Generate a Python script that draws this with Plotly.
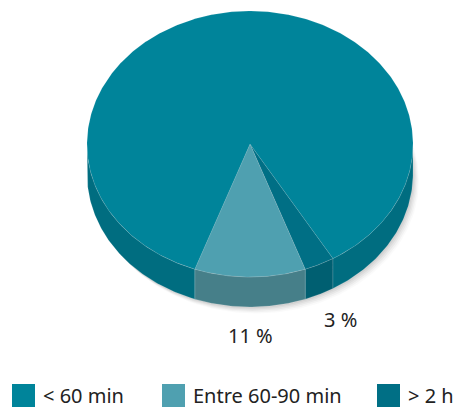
import numpy as np
import plotly.graph_objects as go

# Travel time shares (percent)
categories = ["< 60 min", "Entre 60-90 min", "> 2 h"]
shares = [86, 11, 3]
labels_shown = [False, True, True]

top_colors = ["#00849a", "#4fa0b0", "#006f85"]
side_colors = ["#006d80", "#467f89", "#005f71"]

# Pie geometry in pixel space
W, H = 459, 412
CX, CY = 250, 144
RX, RY = 163, 133
DEPTH = 30
# slices run clockwise on screen; "> 2 h" starts here
START = 90 - shares[1] / 100 * 360 / 2 - shares[2] / 100 * 360

fig = go.Figure()


def arc(a0, a1, dy=0.0, n=None):
    n = n or max(4, int(abs(a1 - a0) * 1.5))
    t = np.radians(np.linspace(a0, a1, n))
    return CX + RX * np.cos(t), CY + dy + RY * np.sin(t)


# angular spans in drawing order: > 2 h, Entre 60-90, < 60
order = [2, 1, 0]
spans = {}
a = START
for i in order:
    d = shares[i] / 100 * 360
    spans[i] = (a, a + d)
    a += d

# soft drop shadow under the disc
for k, alpha in zip(range(1, 6), [0.05, 0.045, 0.04, 0.03, 0.02]):
    x, y = arc(0, 360, dy=DEPTH, n=240)
    fig.add_trace(go.Scatter(x=x + k * 1.2, y=y + k * 1.3, fill="toself", mode="lines",
                             line=dict(width=0), fillcolor=f"rgba(0,0,0,{alpha})",
                             hoverinfo="skip", showlegend=False))

# side walls (front half only)
for i in order:
    a0, a1 = spans[i]
    for off in (0, 360, -360):
        s0, s1 = max(a0 + off, 0), min(a1 + off, 180)
        if s1 <= s0:
            continue
        xu, yu = arc(s0, s1)
        xl, yl = arc(s1, s0, dy=DEPTH)
        fig.add_trace(go.Scatter(x=np.r_[xu, xl, xu[:1]], y=np.r_[yu, yl, yu[:1]],
                                 fill="toself", mode="lines", fillcolor=side_colors[i],
                                 line=dict(width=0.6, color="rgba(255,255,255,0.25)"),
                                 hoverinfo="skip", showlegend=False))

# top faces
for i in order:
    a0, a1 = spans[i]
    x, y = arc(a0, a1)
    fig.add_trace(go.Scatter(x=np.r_[CX, x, CX], y=np.r_[CY, y, CY], fill="toself",
                             mode="lines", fillcolor=top_colors[i],
                             line=dict(width=0.6, color="rgba(255,255,255,0.18)"),
                             hoverinfo="skip", showlegend=False))

# percentage labels outside the rim
LRX, LRY, LCY = 212, 161, CY + DEPTH
for i in order:
    if not labels_shown[i]:
        continue
    m = np.radians(sum(spans[i]) / 2)
    fig.add_annotation(x=CX + LRX * np.cos(m), y=LCY + LRY * np.sin(m),
                       text=f"{shares[i]} %", showarrow=False,
                       font=dict(size=20, color="#222222", family="Noto Sans"))

# legend row
leg_x = [23.5, 173.5, 388.5]
leg_y = 395.5
fig.add_trace(go.Scatter(x=leg_x, y=[leg_y] * 3, mode="markers",
                         marker=dict(symbol="square", size=23, color=top_colors, line=dict(width=0)),
                         hoverinfo="skip", showlegend=False))
for xs, name in zip(leg_x, categories):
    fig.add_annotation(x=xs + 17, y=leg_y, text=name, showarrow=False, xanchor="left",
                       font=dict(size=20, color="#222222", family="Noto Sans"))

fig.update_layout(
    width=W, height=H, margin=dict(l=0, r=0, t=0, b=0),
    paper_bgcolor="white", plot_bgcolor="white",
    xaxis=dict(range=[0, W], visible=False, fixedrange=True),
    yaxis=dict(range=[H, 0], visible=False, fixedrange=True),
)
fig.write_html("out.html")
